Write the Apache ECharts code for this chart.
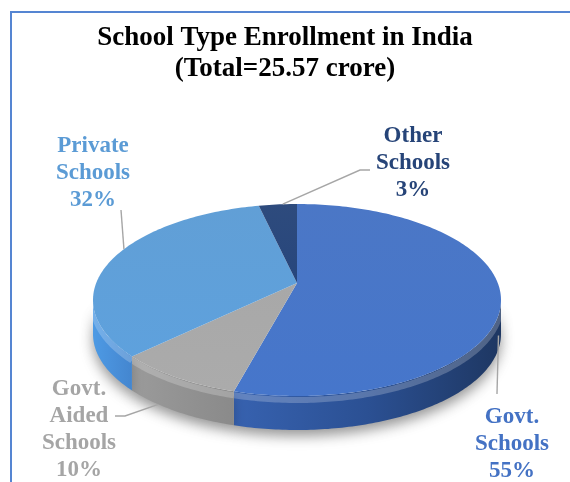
<!DOCTYPE html>
<html>
<head>
<meta charset="utf-8">
<title>School Type Enrollment in India</title>
<script src="https://cdn.jsdelivr.net/npm/echarts@6/dist/echarts.min.js"></script>
<style>
  html, body { margin: 0; padding: 0; background: #fff; }
  #chart { width: 570px; height: 482px; }
</style>
</head>
<body>
<div id="chart"></div>
<script>
// Enrollment share by school type (percent of 25.57 crore students)
const categories = ['Govt.\nSchools', 'Govt.\nAided\nSchools', 'Private\nSchools', 'Other\nSchools'];
const shares = [55, 10, 32, 3];
const titleLines = ['School Type Enrollment in India', '(Total=25.57 crore)'];

// Slice colours: top face, side wall gradient (left -> right)
const topColors = ['#4472C4', '#A5A5A5', '#5B9BD5', '#264478'];
const sideColors = [
  ['#3762B0', '#2B5093', '#1E3762'],
  ['#9B9B9B', '#929292', '#8A8A8A'],
  ['#4D9AE4', '#4990DA', '#4486CF'],
  ['#1F3A68', '#1B335C', '#172B4E']
];

// Pie drawn as a tilted disc: ellipse of the top face, wall depth, apex lifted for perspective
const disc = { cx: 297, cy: 300, rx: 204, ry: 96, depth: 34, apexLift: 17 };

// Label boxes and leader routes; anchor = position inside the slice (0..1), drop = share of wall depth
const labelLayout = [
  { anchor: 0.5, drop: 0.6, route: [[497, 394]], text: [512, 444] },
  { anchor: 0.69, drop: 1.0, route: [[125, 416], [115, 416]], text: [79, 430] },
  { anchor: 0.59, drop: 0, route: [[121, 210]], text: [93, 173] },
  { anchor: 0.63, drop: 0, route: [[360, 170], [370, 170]], text: [413, 163] }
];

const total = shares.reduce((a, b) => a + b, 0);
const cumulative = [];
shares.reduce((acc, v, i) => { cumulative[i] = acc; return acc + v; }, 0);

const TAU = Math.PI * 2;
function rimPoint(theta, dy) {
  return [disc.cx + disc.rx * Math.sin(theta), disc.cy - disc.ry * Math.cos(theta) + (dy || 0)];
}
function arc(a, b, dy) {
  const pts = [];
  const steps = Math.max(2, Math.ceil(Math.abs(b - a) / (Math.PI / 180)));
  for (let k = 0; k <= steps; k++) pts.push(rimPoint(a + (b - a) * k / steps, dy));
  return pts;
}
function sliceAngles(i, value) {
  const start = cumulative[i] / total * TAU;
  return [start, start + value / total * TAU];
}

function renderSlice(params, api) {
  const i = params.dataIndex;
  const [start, end] = sliceAngles(i, api.value(0));
  const children = [];

  // front wall: only the part of the rim facing the viewer (90deg..270deg clockwise from top)
  const a = Math.max(start, Math.PI / 2);
  const b = Math.min(end, Math.PI * 3 / 2);
  if (a < b) {
    const upper = arc(a, b, 0);
    const lower = arc(b, a, disc.depth);
    const sc = sideColors[i];
    children.push({
      type: 'polygon',
      shape: { points: upper.concat(lower) },
      style: {
        fill: new echarts.graphic.LinearGradient(0, 0, 1, 0, [
          { offset: 0, color: sc[0] }, { offset: 0.5, color: sc[1] }, { offset: 1, color: sc[2] }
        ]),
        shadowColor: 'rgba(0,0,0,0.22)', shadowBlur: 12, shadowOffsetY: 6
      }
    });
    // rounded bevel highlight along the top edge of the wall
    children.push({
      type: 'polyline',
      shape: { points: arc(a, b, 4) },
      style: { stroke: 'rgba(255,255,255,0.22)', lineWidth: 6, fill: null }
    });
  }

  // top face
  const apex = [disc.cx, disc.cy - disc.apexLift];
  children.push({
    type: 'polygon',
    shape: { points: [apex].concat(arc(start, end, 0)) },
    style: {
      fill: new echarts.graphic.LinearGradient(0, 0, 0, 1, [
        { offset: 0, color: echarts.color.lift(topColors[i], 0.04) },
        { offset: 1, color: echarts.color.lift(topColors[i], -0.04) }
      ])
    }
  });
  return { type: 'group', children: children };
}

function renderLabel(params, api) {
  const i = params.dataIndex;
  const value = api.value(0);
  const [start, end] = sliceAngles(i, value);
  const lay = labelLayout[i];
  const theta = start + (end - start) * lay.anchor;
  const from = rimPoint(theta, disc.depth * lay.drop);
  const pct = Math.round(value / total * 100) + '%';
  return {
    type: 'group',
    children: [
      {
        type: 'polyline',
        shape: { points: [from].concat(lay.route) },
        style: { stroke: '#A6A6A6', lineWidth: 1.4, fill: null }
      },
      {
        type: 'text',
        x: lay.text[0], y: lay.text[1],
        style: {
          text: categories[i] + '\n' + pct,
          fill: topColors[i],
          font: 'bold 23px "Liberation Serif", "Times New Roman", serif',
          lineHeight: 27,
          align: 'center',
          verticalAlign: 'middle'
        }
      }
    ]
  };
}

const chart = echarts.init(document.getElementById('chart'), null, { renderer: 'canvas' });
const data = shares.map((v, i) => ({ name: categories[i], value: v }));

const titleFont = {
  fontFamily: '"Liberation Serif", "Times New Roman", serif',
  fontWeight: 'bold',
  fontSize: 27,
  color: '#000000'
};

chart.setOption({
  backgroundColor: '#ffffff',
  animation: false,
  title: [
    { text: titleLines[0], left: 'center', top: 20, textStyle: titleFont },
    { text: titleLines[1], left: 'center', top: 51, textStyle: titleFont }
  ],
  graphic: [
    {
      type: 'rect',
      z: 0,
      shape: { x: 11, y: 12, width: 600, height: 500 },
      style: { fill: null, stroke: '#5585D2', lineWidth: 2 }
    },
    {
      type: 'ellipse',
      z: 0,
      shape: { cx: disc.cx, cy: disc.cy + disc.depth, rx: disc.rx - 2, ry: disc.ry - 2 },
      style: { fill: '#ffffff', shadowColor: 'rgba(0,0,0,0.28)', shadowBlur: 16, shadowOffsetY: 6 }
    }
  ],
  series: [
    {
      type: 'custom',
      coordinateSystem: 'none',
      z: 2,
      renderItem: renderSlice,
      data: data
    },
    {
      type: 'custom',
      coordinateSystem: 'none',
      z: 3,
      renderItem: renderLabel,
      data: data
    }
  ]
});
</script>
</body>
</html>
